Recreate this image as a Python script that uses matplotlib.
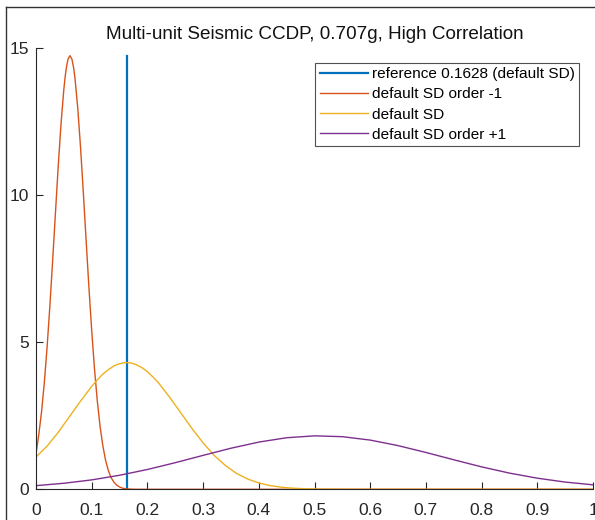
import matplotlib
matplotlib.use("Agg")
import matplotlib.pyplot as plt
from matplotlib.lines import Line2D

plt.rcParams['font.family'] = ['Liberation Sans', 'DejaVu Sans']

titulo = "Multi-unit Seismic CCDP, 0.707g, High Correlation"
rotulos = ["reference 0.1628 (default SD)", "default SD order -1",
           "default SD", "default SD order +1"]

# linha de referencia
ref_x = 0.1628
ref_y = [0, 14.75]

# default SD order -1
x_m1 = [0, 0.005, 0.01, 0.015, 0.02, 0.025, 0.03, 0.035, 0.04, 0.045, 0.05,
        0.0525, 0.055, 0.0575, 0.061, 0.0645, 0.0675, 0.07, 0.075, 0.08,
        0.085, 0.09, 0.095, 0.1,
        0.105, 0.11, 0.115, 0.12, 0.125, 0.13, 0.135, 0.14, 0.145, 0.15,
        0.155, 0.16, 0.17, 0.18, 0.2, 0.4, 0.6, 0.8, 1.0]
y_m1 = [1.2, 1.86, 2.64, 3.64, 4.86, 6.26, 7.81, 9.43, 11.02, 12.45, 13.61,
        14.06, 14.40, 14.63, 14.75, 14.63, 14.34, 13.98, 12.96, 11.62,
        10.08, 8.46, 6.87, 5.40,
        4.10, 3.02, 2.14, 1.48, 0.98, 0.63, 0.39, 0.24, 0.14, 0.08,
        0.04, 0.02, 0.005, 0, 0, 0, 0, 0, 0]

# default SD
x_sd = [0, 0.02, 0.04, 0.06, 0.08, 0.1, 0.11, 0.12, 0.13, 0.14, 0.15, 0.16,
        0.17, 0.18, 0.19, 0.2, 0.21, 0.22,
        0.24, 0.26, 0.28, 0.3, 0.32, 0.34, 0.36, 0.38, 0.4, 0.42, 0.44,
        0.46, 0.48, 0.5, 0.52, 0.55, 0.6, 0.8, 1.0]
y_sd = [1.10, 1.47, 1.94, 2.47, 3.00, 3.50, 3.72, 3.92, 4.07, 4.20, 4.27,
        4.31, 4.30, 4.24, 4.14, 4.00, 3.82,
        3.62, 3.13, 2.60, 2.07, 1.58, 1.15, 0.81, 0.54, 0.35, 0.215, 0.127,
        0.072, 0.039, 0.020, 0.010, 0.005, 0.001, 0, 0, 0]

# default SD order +1
x_p1 = [0, 0.05, 0.1, 0.15, 0.2, 0.25, 0.3, 0.35, 0.4, 0.45, 0.5, 0.55,
        0.6, 0.65, 0.7, 0.75, 0.8, 0.85, 0.9, 0.95, 1.0]
y_p1 = [0.124, 0.205, 0.32, 0.477, 0.674, 0.905, 1.154, 1.397, 1.606,
        1.754, 1.818, 1.790, 1.674, 1.486, 1.253, 1.004, 0.763, 0.551,
        0.378, 0.246, 0.152]

fig = plt.figure(figsize=(5.95, 5.2), dpi=100)
ax = fig.add_axes([36/595, 1 - 489.3/520, (593 - 36)/595, (489.3 - 48.3)/520])

ax.plot([ref_x, ref_x], ref_y, color="#0072BD", lw=1.6, label=rotulos[0])
ax.plot(x_m1, y_m1, color="#D95319", lw=1.0, label=rotulos[1])
ax.plot(x_sd, y_sd, color="#EDB120", lw=1.0, label=rotulos[2])
ax.plot(x_p1, y_p1, color="#7E2F8E", lw=1.0, label=rotulos[3])

ax.set_xlim(0, 1)
ax.set_ylim(0, 15)
ax.set_xticks([0, 0.1, 0.2, 0.3, 0.4, 0.5, 0.6, 0.7, 0.8, 0.9, 1])
ax.set_xticklabels(["0", "0.1", "0.2", "0.3", "0.4", "0.5", "0.6", "0.7",
                    "0.8", "0.9", "1"])
ax.set_yticks([0, 5, 10, 15])
ax.spines['top'].set_visible(False)
ax.spines['right'].set_visible(False)
for s in ['left', 'bottom']:
    ax.spines[s].set_color("#262626")
    ax.spines[s].set_linewidth(0.8)
ax.tick_params(direction="in", length=5, width=0.8, colors="#262626",
               labelsize=12.5, labelcolor="#262626")
ax.tick_params(axis="x", pad=10)
ax.tick_params(axis="y", pad=5)

ax.set_title(titulo, fontsize=13.6, color="#111111", pad=7)

leg = ax.legend(loc="upper right", bbox_to_anchor=(579/595, 1 - 62.7/520),
                bbox_transform=fig.transFigure, fontsize=11.1, frameon=True,
                fancybox=False, handlelength=3.1, handletextpad=0.25,
                labelspacing=0.4, borderpad=0.3, borderaxespad=0)
leg.get_frame().set_edgecolor("#262626")
leg.get_frame().set_linewidth(0.8)

# moldura da captura de tela
fig.add_artist(Line2D([6/595, 6/595], [0, 1 - 7/520], color="#333333", lw=1.0))
fig.add_artist(Line2D([6/595, 1], [1 - 7/520, 1 - 7/520], color="#333333", lw=1.0))

plt.savefig("out.png", dpi=100)
